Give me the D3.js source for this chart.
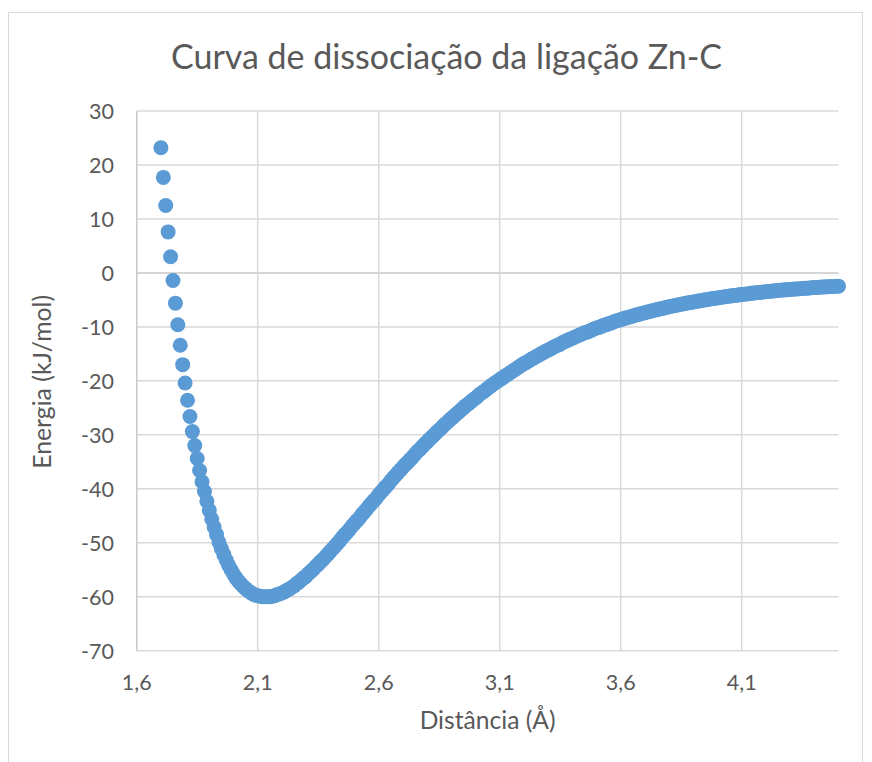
<!DOCTYPE html>
<html>
<head>
<meta charset="utf-8">
<script src="https://cdn.jsdelivr.net/npm/d3@7"></script>
<style>
  html, body { margin: 0; padding: 0; background: #fff; }
  svg { display: block; }
  text { font-family: Lato, "Open Sans", sans-serif; fill: #595959; }
</style>
</head>
<body>
<svg id="chart" width="872" height="762"></svg>
<script>
// Textos do gráfico
const tituloGrafico = "Curva de dissociação da ligação Zn-C";
const tituloEixoX = "Distância (Å)";
const tituloEixoY = "Energia (kJ/mol)";

// Marcas dos eixos
const ticksX = [1.6, 2.1, 2.6, 3.1, 3.6, 4.1];
const ticksY = [30, 20, 10, 0, -10, -20, -30, -40, -50, -60, -70];

// Distância Zn–C (Å)
const distancia = [
  1.70, 1.71, 1.72, 1.73, 1.74, 1.75, 1.76, 1.77, 1.78, 1.79,
  1.80, 1.81, 1.82, 1.83, 1.84, 1.85, 1.86, 1.87, 1.88, 1.89,
  1.90, 1.91, 1.92, 1.93, 1.94, 1.95, 1.96, 1.97, 1.98, 1.99,
  2.00, 2.01, 2.02, 2.03, 2.04, 2.05, 2.06, 2.07, 2.08, 2.09,
  2.10, 2.11, 2.12, 2.13, 2.14, 2.15, 2.16, 2.17, 2.18, 2.19,
  2.20, 2.21, 2.22, 2.23, 2.24, 2.25, 2.26, 2.27, 2.28, 2.29,
  2.30, 2.31, 2.32, 2.33, 2.34, 2.35, 2.36, 2.37, 2.38, 2.39,
  2.40, 2.41, 2.42, 2.43, 2.44, 2.45, 2.46, 2.47, 2.48, 2.49,
  2.50, 2.51, 2.52, 2.53, 2.54, 2.55, 2.56, 2.57, 2.58, 2.59,
  2.60, 2.61, 2.62, 2.63, 2.64, 2.65, 2.66, 2.67, 2.68, 2.69,
  2.70, 2.71, 2.72, 2.73, 2.74, 2.75, 2.76, 2.77, 2.78, 2.79,
  2.80, 2.81, 2.82, 2.83, 2.84, 2.85, 2.86, 2.87, 2.88, 2.89,
  2.90, 2.91, 2.92, 2.93, 2.94, 2.95, 2.96, 2.97, 2.98, 2.99,
  3.00, 3.01, 3.02, 3.03, 3.04, 3.05, 3.06, 3.07, 3.08, 3.09,
  3.10, 3.11, 3.12, 3.13, 3.14, 3.15, 3.16, 3.17, 3.18, 3.19,
  3.20, 3.21, 3.22, 3.23, 3.24, 3.25, 3.26, 3.27, 3.28, 3.29,
  3.30, 3.31, 3.32, 3.33, 3.34, 3.35, 3.36, 3.37, 3.38, 3.39,
  3.40, 3.41, 3.42, 3.43, 3.44, 3.45, 3.46, 3.47, 3.48, 3.49,
  3.50, 3.51, 3.52, 3.53, 3.54, 3.55, 3.56, 3.57, 3.58, 3.59,
  3.60, 3.61, 3.62, 3.63, 3.64, 3.65, 3.66, 3.67, 3.68, 3.69,
  3.70, 3.71, 3.72, 3.73, 3.74, 3.75, 3.76, 3.77, 3.78, 3.79,
  3.80, 3.81, 3.82, 3.83, 3.84, 3.85, 3.86, 3.87, 3.88, 3.89,
  3.90, 3.91, 3.92, 3.93, 3.94, 3.95, 3.96, 3.97, 3.98, 3.99,
  4.00, 4.01, 4.02, 4.03, 4.04, 4.05, 4.06, 4.07, 4.08, 4.09,
  4.10, 4.11, 4.12, 4.13, 4.14, 4.15, 4.16, 4.17, 4.18, 4.19,
  4.20, 4.21, 4.22, 4.23, 4.24, 4.25, 4.26, 4.27, 4.28, 4.29,
  4.30, 4.31, 4.32, 4.33, 4.34, 4.35, 4.36, 4.37, 4.38, 4.39,
  4.40, 4.41, 4.42, 4.43, 4.44, 4.45, 4.46, 4.47, 4.48, 4.49,
  4.50
];

// Energia (kJ/mol) em cada distância
const energia = [
  23.2, 17.7, 12.5, 7.6, 3.0, -1.4, -5.6, -9.6, -13.4, -17.0,
  -20.4, -23.6, -26.6, -29.4, -32.0, -34.4, -36.6, -38.7, -40.5, -42.3,
  -44.0, -45.6, -47.1, -48.5, -49.9, -51.1, -52.2, -53.2, -54.2, -55.0,
  -55.8, -56.5, -57.1, -57.6, -58.1, -58.5, -58.9, -59.2, -59.5, -59.7,
  -59.8, -59.9, -60.0, -60.0, -60.0, -60.0, -59.9, -59.8, -59.6, -59.5,
  -59.3, -59.1, -58.8, -58.6, -58.3, -58.0, -57.6, -57.3, -56.9, -56.5,
  -56.2, -55.7, -55.3, -54.9, -54.4, -54.0, -53.5, -53.1, -52.6, -52.1,
  -51.6, -51.1, -50.6, -50.1, -49.6, -49.0, -48.5, -48.0, -47.5, -46.9,
  -46.4, -45.9, -45.4, -44.8, -44.3, -43.8, -43.2, -42.7, -42.2, -41.7,
  -41.1, -40.6, -40.1, -39.6, -39.1, -38.5, -38.0, -37.5, -37.0, -36.5,
  -36.0, -35.5, -35.1, -34.6, -34.1, -33.6, -33.1, -32.7, -32.2, -31.7,
  -31.3, -30.8, -30.4, -30.0, -29.5, -29.1, -28.7, -28.2, -27.8, -27.4,
  -27.0, -26.6, -26.2, -25.8, -25.4, -25.0, -24.6, -24.3, -23.9, -23.5,
  -23.2, -22.8, -22.4, -22.1, -21.8, -21.4, -21.1, -20.7, -20.4, -20.1,
  -19.8, -19.5, -19.2, -18.9, -18.6, -18.3, -18.0, -17.7, -17.4, -17.1,
  -16.8, -16.6, -16.3, -16.0, -15.8, -15.5, -15.3, -15.0, -14.8, -14.5,
  -14.3, -14.1, -13.8, -13.6, -13.4, -13.2, -12.9, -12.7, -12.5, -12.3,
  -12.1, -11.9, -11.7, -11.5, -11.3, -11.1, -11.0, -10.8, -10.6, -10.4,
  -10.2, -10.1, -9.9, -9.7, -9.6, -9.4, -9.3, -9.1, -8.9, -8.8,
  -8.65, -8.51, -8.37, -8.24, -8.10, -7.98, -7.85, -7.72, -7.60, -7.48,
  -7.36, -7.24, -7.13, -7.02, -6.91, -6.80, -6.69, -6.59, -6.48, -6.38,
  -6.28, -6.18, -6.09, -5.99, -5.90, -5.81, -5.72, -5.63, -5.55, -5.46,
  -5.38, -5.30, -5.22, -5.14, -5.06, -4.99, -4.91, -4.84, -4.76, -4.69,
  -4.63, -4.56, -4.49, -4.43, -4.36, -4.30, -4.24, -4.18, -4.12, -4.06,
  -4.00, -3.95, -3.89, -3.84, -3.79, -3.73, -3.68, -3.63, -3.58, -3.54,
  -3.49, -3.44, -3.40, -3.35, -3.31, -3.27, -3.22, -3.18, -3.14, -3.11,
  -3.07, -3.03, -2.99, -2.96, -2.92, -2.89, -2.85, -2.82, -2.79, -2.75,
  -2.72, -2.69, -2.66, -2.63, -2.61, -2.58, -2.55, -2.52, -2.50, -2.47,
  -2.45
];

const pontos = distancia.map((d, i) => ({ r: d, e: energia[i] }));

const svg = d3.select("#chart");
const W = 872, H = 762;

// Área do gráfico (moldura)
svg.append("rect")
  .attr("x", 8.5).attr("y", 12.5)
  .attr("width", 854).attr("height", H + 10)
  .attr("fill", "#fff")
  .attr("stroke", "#d9d9d9")
  .attr("stroke-width", 1);

// Área de plotagem
const plot = { left: 136.7, right: 838.5, top: 111, bottom: 650.7 };

const x = d3.scaleLinear().domain([1.6, 4.5]).range([plot.left, plot.right]);
const y = d3.scaleLinear().domain([-70, 30]).range([plot.bottom, plot.top]);

const virgula = v => v.toFixed(1).replace(".", ",");

// Linhas de grade horizontais
svg.append("g")
  .selectAll("line")
  .data(ticksY)
  .join("line")
  .attr("x1", plot.left).attr("x2", plot.right)
  .attr("y1", d => y(d)).attr("y2", d => y(d))
  .attr("stroke", d => d === 0 ? "#c8c8c8" : "#d9d9d9")
  .attr("stroke-width", 1.5);

// Linhas de grade verticais
svg.append("g")
  .selectAll("line")
  .data(ticksX)
  .join("line")
  .attr("x1", d => x(d)).attr("x2", d => x(d))
  .attr("y1", plot.top).attr("y2", plot.bottom)
  .attr("stroke", d => d === 1.6 ? "#c8c8c8" : "#d9d9d9")
  .attr("stroke-width", 1.5);

// Rótulos do eixo Y
svg.append("g")
  .selectAll("text")
  .data(ticksY)
  .join("text")
  .attr("x", 114)
  .attr("y", d => y(d) + 7.8)
  .attr("text-anchor", "end")
  .attr("font-size", 21.5)
  .text(d => String(d));

// Rótulos do eixo X
svg.append("g")
  .selectAll("text")
  .data(ticksX)
  .join("text")
  .attr("x", d => x(d))
  .attr("y", 690)
  .attr("text-anchor", "middle")
  .attr("font-size", 21.5)
  .text(d => virgula(d));

// Ajusta o tamanho da fonte para a largura desejada
function ajustar(sel, largura) {
  const w = sel.node().getComputedTextLength();
  const fs = parseFloat(sel.attr("font-size"));
  if (w > 0) sel.attr("font-size", fs * largura / w);
}

// Título
const titulo = svg.append("text")
  .attr("x", 446.5).attr("y", 69)
  .attr("text-anchor", "middle")
  .attr("font-size", 32)
  .text(tituloGrafico);
ajustar(titulo, 551);

// Título do eixo X
const tx = svg.append("text")
  .attr("x", (plot.left + plot.right) / 2).attr("y", 729)
  .attr("text-anchor", "middle")
  .attr("font-size", 24)
  .text(tituloEixoX);
ajustar(tx, 136);

// Título do eixo Y
const ty = svg.append("text")
  .attr("transform", `translate(51,${(plot.top + plot.bottom) / 2 + 1}) rotate(-90)`)
  .attr("text-anchor", "middle")
  .attr("font-size", 24)
  .text(tituloEixoY);
ajustar(ty, 174);

// Pontos da curva
svg.append("g")
  .selectAll("circle")
  .data(pontos)
  .join("circle")
  .attr("cx", d => x(d.r))
  .attr("cy", d => y(d.e))
  .attr("r", 7.5)
  .attr("fill", "#5b9bd5");
</script>
</body>
</html>
